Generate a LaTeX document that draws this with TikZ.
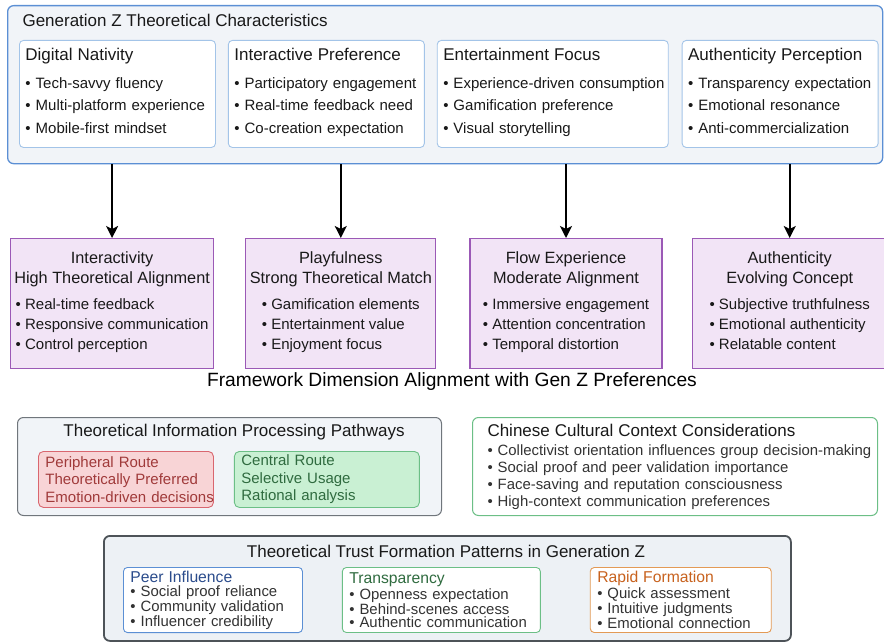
\documentclass[tikz,border=0pt]{standalone}
\usepackage{fontspec}
\setmainfont{Liberation Sans}
\usepackage{tikz}
\usepackage{xcolor}
\usetikzlibrary{positioning, arrows.meta}

\definecolor{genblue}{HTML}{5B8FD4}
\definecolor{genfill}{HTML}{F1F4F8}
\definecolor{charline}{HTML}{A3C4E8}
\definecolor{dimline}{HTML}{9B59B6}
\definecolor{dimfill}{HTML}{F2E4F6}
\definecolor{pathline}{HTML}{70767C}
\definecolor{redline}{HTML}{D9666F}
\definecolor{redfill}{HTML}{F8D4D6}
\definecolor{redtext}{HTML}{A03A3A}
\definecolor{grnline}{HTML}{6CBF86}
\definecolor{grnfill}{HTML}{C9F0D3}
\definecolor{grntext}{HTML}{2F6B3F}
\definecolor{trustline}{HTML}{4D5358}
\definecolor{trustfill}{HTML}{EDF1F5}
\definecolor{peerblue}{HTML}{2B4C8C}
\definecolor{orgline}{HTML}{E39A55}
\definecolor{orgtext}{HTML}{C8621E}
\definecolor{bodygray}{HTML}{333333}

\newcommand{\hfont}{\fontsize{17}{19}\selectfont}
\newcommand{\dfont}{\fontsize{16.3}{20}\selectfont}

\begin{document}
\begin{tikzpicture}[x=1pt, y=-1pt,
        node distance=12pt,
        >={Stealth[length=12pt, width=12pt, inset=3pt]},
        % Styles
        genbox/.style={rectangle, draw=genblue, line width=1.3pt, fill=genfill, rounded corners=6pt,
                minimum width=875pt, minimum height=158pt, inner sep=0pt, anchor=north west},
        charbox/.style={rectangle, draw=charline, line width=0.9pt, fill=white, rounded corners=4pt,
                text width=184pt, minimum height=107pt, align=left, inner xsep=6pt, anchor=north west,
                font=\fontsize{15}{22.5}\selectfont, text=black!90},
        dimbox/.style={rectangle, draw=dimline, line width=1.2pt, fill=dimfill, minimum height=130pt,
                align=center, inner sep=2pt, anchor=north west, font=\fontsize{15}{20}\selectfont, text=black!90},
        capfont/.style={font=\fontsize{19.2}{22}\selectfont},
        arrow/.style={->, line width=1.8pt, black},
        groupbox/.style={rectangle, rounded corners=6pt, inner sep=0pt, anchor=north west},
        routebox/.style={rectangle, rounded corners=5pt, line width=0.9pt, minimum height=56pt,
                align=left, inner xsep=7pt, anchor=north west, font=\fontsize{15}{17.5}\selectfont},
        trustsub/.style={rectangle, draw, fill=white, rounded corners=4pt, line width=0.9pt,
                minimum height=65pt, align=left, inner xsep=7pt, anchor=north west,
                font=\fontsize{14.9}{13.2}\selectfont, text=bodygray},
        grouplab/.style={font=\hfont, text=black!90}]

        \useasboundingbox (0,0) rectangle (884,642);

        % === GENERATION Z CHARACTERISTICS ===
        \node[genbox] (gen) at (7,5) {};
        \node[grouplab, anchor=west] (gentitle) at (19,20) {Generation Z Theoretical Characteristics};

        \node[charbox] (dig) at (19,40) {{\hfont\strut Digital Nativity}\\[5pt]
                • Tech-savvy fluency\\ • Multi-platform experience\\ • Mobile-first mindset\strut\\[2pt]};
        \node[charbox, right=12pt of dig] (inter) {{\hfont\strut Interactive Preference}\\[5pt]
                • Participatory engagement\\ • Real-time feedback need\\ • Co-creation expectation\strut\\[2pt]};
        \node[charbox, right=12pt of inter, text width=219pt] (ent) {{\hfont\strut Entertainment Focus}\\[5pt]
                \mbox{• Experience-driven consumption}\\ • Gamification preference\\ • Visual storytelling\strut\\[2pt]};
        \node[charbox, right=13pt of ent] (authp) {{\hfont\strut Authenticity Perception}\\[5pt]
                • Transparency expectation\\ • Emotional resonance\\ • Anti-commercialization\strut\\[2pt]};

        % === FRAMEWORK DIMENSIONS ===
        \node[dimbox, minimum width=203pt] (ia) at (10,238) {{\dfont Interactivity}\\
                {\dfont High Theoretical Alignment}\\[8pt]
                \begin{tabular}{@{}l@{}}• Real-time feedback\\ • Responsive communication\\ • Control perception\end{tabular}};
        \node[dimbox, minimum width=190pt, right=31pt of ia] (play) {{\dfont Playfulness}\\
                {\dfont Strong Theoretical Match}\\[8pt]
                \begin{tabular}{@{}l@{}}• Gamification elements\\ • Entertainment value\\ • Enjoyment focus\end{tabular}};
        \node[dimbox, minimum width=192pt, right=33pt of play] (flow) {{\dfont Flow Experience}\\
                {\dfont Moderate Alignment}\\[8pt]
                \begin{tabular}{@{}l@{}}• Immersive engagement\\ • Attention concentration\\ • Temporal distortion\end{tabular}};
        \node[dimbox, minimum width=195pt, right=29pt of flow] (auth) {{\dfont Authenticity}\\
                {\dfont Evolving Concept}\\[8pt]
                \begin{tabular}{@{}l@{}}• Subjective truthfulness\\ • Emotional authenticity\\ • Relatable content\end{tabular}};

        % Connections
        \draw[arrow] (ia.north |- gen.south) -- (ia.north);
        \draw[arrow] (play.north |- gen.south) -- (play.north);
        \draw[arrow] (flow.north |- gen.south) -- (flow.north);
        \draw[arrow] (auth.north |- gen.south) -- (auth.north);

        \node[capfont] (cap) at (452,382) {Framework Dimension Alignment with Gen Z Preferences};

        % === PROCESSING PATHWAYS ===
        \node[groupbox, draw=pathline, line width=1pt, fill=genfill, minimum width=424pt,
                minimum height=98pt] (paths) at (17,417) {};
        \node[grouplab] (pathtitle) at (234,432) {Theoretical Information Processing Pathways};
        \node[routebox, draw=redline, fill=redfill, text=redtext, text width=161pt] (periph) at (38,451)
                {\mbox{Peripheral Route}\\ \mbox{Theoretically Preferred}\\ \mbox{Emotion-driven decisions}};
        \node[routebox, draw=grnline, fill=grnfill, text=grntext, text width=171pt, right=20pt of periph] (central)
                {\mbox{Central Route}\\ \mbox{Selective Usage}\\ \mbox{Rational analysis}};

        % === CULTURAL CONTEXT ===
        \node[groupbox, draw=grnline, line width=1pt, fill=white, text width=375pt, minimum height=98pt,
                inner xsep=15pt, align=left, font=\fontsize{14.9}{17}\selectfont, text=bodygray] (ctx) at (472,417)
                {{\hfont\color{black!90}Chinese Cultural Context Considerations}\\[2pt]
                \mbox{• Collectivist orientation influences group decision-making}\\
                • Social proof and peer validation importance\\
                • Face-saving and reputation consciousness\\
                • High-context communication preferences};

        % === TRUST FORMATION ===
        \node[groupbox, draw=trustline, line width=1.8pt, fill=trustfill, minimum width=687pt,
                minimum height=105pt] (trust) at (103,535) {};
        \node[grouplab] (trusttitle) at (446,551) {Theoretical Trust Formation Patterns in Generation Z};
        \node[trustsub, draw=genblue, text width=165pt] (peer) at (123,567)
                {{\fontsize{15.7}{16}\selectfont\color{peerblue}Peer Influence}\\[1pt]
                • Social proof reliance\\ • Community validation\\ • Influencer credibility};
        \node[trustsub, draw=grnline, text width=184pt, right=39pt of peer] (transp)
                {{\fontsize{15.7}{16}\selectfont\color{grntext}Transparency}\\[1pt]
                • Openness expectation\\ • Behind-scenes access\\ • Authentic communication};
        \node[trustsub, draw=orgline, text width=167pt, right=49pt of transp] (rapid)
                {{\fontsize{15.7}{16}\selectfont\color{orgtext}Rapid Formation}\\[1pt]
                • Quick assessment\\ • Intuitive judgments\\ • Emotional connection};

\end{tikzpicture}
\end{document}
